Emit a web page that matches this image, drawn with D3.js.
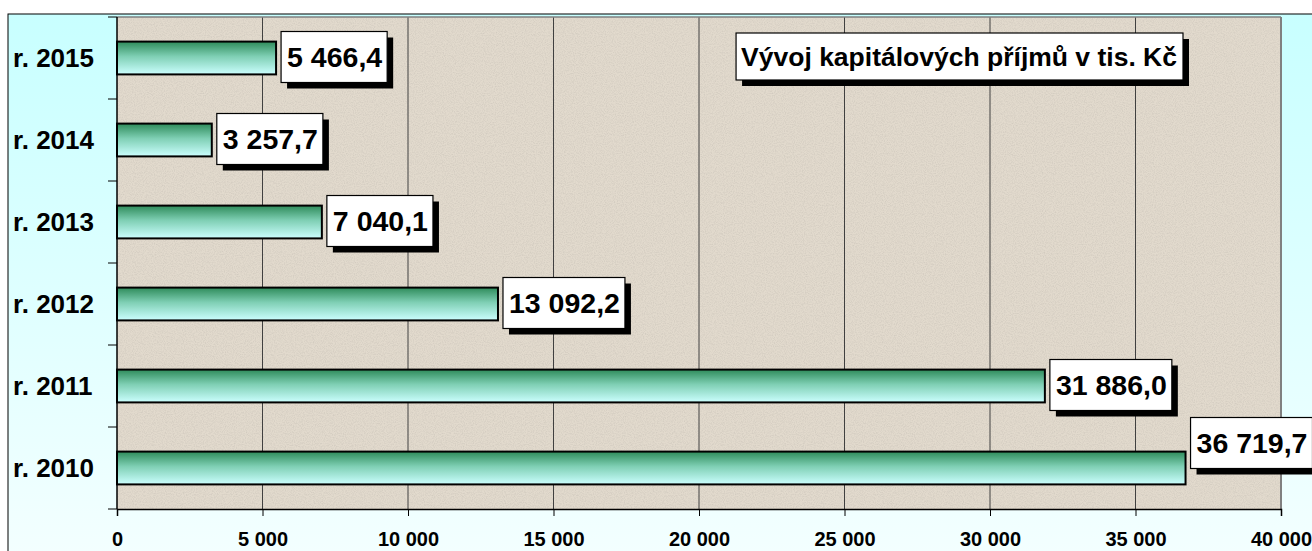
<!DOCTYPE html>
<html lang="cs">
<head>
<meta charset="UTF-8">
<title>Vývoj kapitálových příjmů</title>
<script src="https://d3js.org/d3.v7.min.js"></script>
<style>
    body { margin: 0; background: #fff; }
    svg { display: block; font-family: Arial, "Liberation Sans", sans-serif; font-weight: bold; }
</style>
</head>
<body>
<svg id="chart" width="1312" height="551"></svg>
<script>
    // data
    const years = ["r. 2015", "r. 2014", "r. 2013", "r. 2012", "r. 2011", "r. 2010"];
    const values = [5466.4, 3257.7, 7040.1, 13092.2, 31886.0, 36719.7];
    const xTicks = [0, 5000, 10000, 15000, 20000, 25000, 30000, 35000, 40000];
    const title = "Vývoj kapitálových příjmů v tis. Kč";

    const W = 1312, H = 551;
    const plot = { left: 117, top: 17, right: 1281, bottom: 509 };

    const svg = d3.select("#chart");
    const defs = svg.append("defs");

    const bg = defs.append("linearGradient").attr("id", "bg")
        .attr("x1", 0).attr("y1", 0).attr("x2", 0).attr("y2", 1);
    bg.append("stop").attr("offset", "0%").attr("stop-color", "#c8ffff");
    bg.append("stop").attr("offset", "100%").attr("stop-color", "#f4ffff");

    const barGrad = defs.append("linearGradient").attr("id", "bar")
        .attr("x1", 0).attr("y1", 0).attr("x2", 0).attr("y2", 1);
    barGrad.append("stop").attr("offset", "0%").attr("stop-color", "#2e8b5a");
    barGrad.append("stop").attr("offset", "45%").attr("stop-color", "#7fcfb4");
    barGrad.append("stop").attr("offset", "100%").attr("stop-color", "#ccffff");

    const noise = defs.append("filter").attr("id", "noise")
        .attr("x", 0).attr("y", 0).attr("width", "100%").attr("height", "100%");
    noise.append("feTurbulence").attr("type", "fractalNoise")
        .attr("baseFrequency", 0.9).attr("numOctaves", 2).attr("seed", 3);
    noise.append("feColorMatrix").attr("type", "matrix")
        .attr("values", "0 0 0 0 0.45  0 0 0 0 0.42  0 0 0 0 0.38  0 0 0 -1.6 1.0");
    noise.append("feComposite").attr("in2", "SourceGraphic").attr("operator", "in");

    // chart area
    svg.append("rect").attr("x", 8).attr("y", 14).attr("width", W).attr("height", H)
        .attr("fill", "url(#bg)").attr("stroke", "#000").attr("stroke-width", 1);

    const x = d3.scaleLinear().domain([0, 40000]).range([plot.left, plot.right]);
    const y = d3.scaleBand().domain(years).range([plot.top, plot.bottom])
        .paddingInner(0.6).paddingOuter(0.3);

    // plot area with texture
    svg.append("rect").attr("x", plot.left).attr("y", plot.top)
        .attr("width", plot.right - plot.left).attr("height", plot.bottom - plot.top)
        .attr("fill", "#e2dacd");
    svg.append("rect").attr("x", plot.left).attr("y", plot.top)
        .attr("width", plot.right - plot.left).attr("height", plot.bottom - plot.top)
        .attr("fill", "#e2dacd").attr("filter", "url(#noise)").attr("opacity", 0.4);

    // gridlines
    svg.append("g").selectAll("line").data(xTicks.slice(1, -1)).join("line")
        .attr("x1", d => x(d)).attr("x2", d => x(d))
        .attr("y1", plot.top).attr("y2", plot.bottom)
        .attr("stroke", "#404040").attr("stroke-width", 1);

    // plot border
    svg.append("line").attr("x1", plot.left).attr("x2", plot.right)
        .attr("y1", plot.top).attr("y2", plot.top).attr("stroke", "#808080").attr("stroke-width", 1.5);
    svg.append("line").attr("x1", plot.right).attr("x2", plot.right)
        .attr("y1", plot.top).attr("y2", plot.bottom).attr("stroke", "#808080").attr("stroke-width", 2);

    // x axis
    const xAxis = svg.append("g").attr("transform", `translate(0,${plot.bottom})`)
        .call(d3.axisBottom(x).tickValues(xTicks).tickSize(7)
            .tickFormat(d => d3.format(",")(d).replace(/,/g, " ")));
    xAxis.select(".domain").attr("stroke", "#000").attr("stroke-width", 1.5);
    xAxis.selectAll(".tick line").attr("stroke", "#000");
    xAxis.selectAll("text").attr("font-size", 20).attr("font-weight", "bold")
        .attr("font-family", "Arial, 'Liberation Sans', sans-serif").attr("fill", "#000")
        .attr("y", 37).attr("dy", null);

    // y axis: ticks on band boundaries
    const step = y.step();
    const bounds = years.map(d => y(d) + y.bandwidth() / 2 - step / 2).concat([plot.bottom]);
    svg.append("line").attr("x1", plot.left).attr("x2", plot.left)
        .attr("y1", plot.top).attr("y2", plot.bottom).attr("stroke", "#000").attr("stroke-width", 1.5);
    svg.append("g").selectAll("line").data(bounds).join("line")
        .attr("x1", plot.left - 9).attr("x2", plot.left)
        .attr("y1", d => d).attr("y2", d => d).attr("stroke", "#000");
    svg.append("g").selectAll("text").data(years).join("text")
        .attr("x", 13).attr("y", d => y(d) + y.bandwidth() / 2)
        .attr("dy", "0.35em").attr("font-size", 26).attr("fill", "#000")
        .text(d => d);

    // bars
    svg.append("g").selectAll("rect").data(values).join("rect")
        .attr("x", x(0)).attr("y", (d, i) => y(years[i]))
        .attr("width", d => x(d) - x(0)).attr("height", y.bandwidth())
        .attr("fill", "url(#bar)").attr("stroke", "#000").attr("stroke-width", 2);

    // value labels
    const fmt = v => d3.format(",.1f")(v).replace(/,/g, " ").replace(".", ",");
    const labels = svg.append("g");
    values.forEach((v, i) => {
        const g = labels.append("g");
        const t = g.append("text").attr("font-size", 28.5).attr("fill", "#000").text(fmt(v));
        const tw = t.node().getComputedTextLength();
        const bw = tw + 11, bh = 51;
        const bx = x(v) + 5;
        let cy = y(years[i]) + y.bandwidth() / 2 - 1;
        if (bx + bw > plot.right) cy -= 24;  // label pushed up where it runs past the plot
        const by = cy - bh / 2;
        g.insert("rect", "text").attr("x", bx + 6).attr("y", by + 6).attr("width", bw).attr("height", bh).attr("fill", "#000");
        g.insert("rect", "text").attr("x", bx).attr("y", by).attr("width", bw).attr("height", bh)
            .attr("fill", "#fff").attr("stroke", "#000").attr("stroke-width", 1.2);
        t.attr("x", bx + 6).attr("y", cy).attr("dy", "0.36em");
    });

    // title box
    const tg = svg.append("g");
    const tt = tg.append("text").attr("font-size", 26.5).attr("fill", "#000").text(title);
    const tw = tt.node().getComputedTextLength();
    const tx = 1183 - tw - 11, ty = 33, th = 47;
    tg.insert("rect", "text").attr("x", tx + 6).attr("y", ty + 6).attr("width", tw + 11).attr("height", th).attr("fill", "#000");
    tg.insert("rect", "text").attr("x", tx).attr("y", ty).attr("width", tw + 11).attr("height", th)
        .attr("fill", "#fff").attr("stroke", "#000").attr("stroke-width", 1.2);
    tt.attr("x", tx + 5).attr("y", ty + th / 2).attr("dy", "0.36em");
</script>
</body>
</html>
